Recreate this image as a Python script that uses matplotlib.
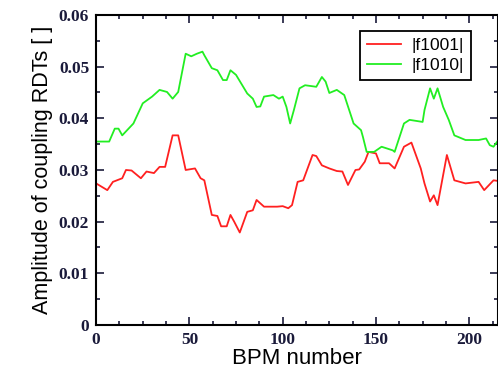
import matplotlib

matplotlib.use("Agg")
import matplotlib.pyplot as plt  # noqa: E402
from matplotlib.ticker import MultipleLocator  # noqa: E402

# |f1001| trace (BPM index, amplitude)
bpm_f1001 = [0, 6, 9, 14, 16, 19, 24, 27, 31, 34, 37, 41, 44, 48, 53, 56, 58,
             62, 65, 67, 70, 72, 74, 77, 81, 84, 86, 90, 97, 100, 103, 105,
             108, 111, 116, 118, 121, 125, 129, 132, 135, 139, 141, 144, 146,
             150, 152, 157, 160, 165, 169, 174, 176, 179, 181, 183, 188, 192,
             198, 205, 208, 213, 215]
amp_f1001 = [0.0274, 0.0261, 0.0277, 0.0284, 0.0300, 0.0299, 0.0284, 0.0297,
             0.0294, 0.0306, 0.0306, 0.0367, 0.0367, 0.0300, 0.0303, 0.0284,
             0.0280, 0.0213, 0.0211, 0.0191, 0.0191, 0.0213, 0.0200, 0.0179,
             0.0219, 0.0222, 0.0242, 0.0229, 0.0229, 0.0230, 0.0226, 0.0232,
             0.0277, 0.0280, 0.0329, 0.0327, 0.0309, 0.0303, 0.0298, 0.0297,
             0.0271, 0.0300, 0.0301, 0.0316, 0.0335, 0.0332, 0.0313, 0.0313,
             0.0303, 0.0345, 0.0353, 0.0303, 0.0274, 0.0239, 0.0251, 0.0232,
             0.0329, 0.0280, 0.0274, 0.0277, 0.0261, 0.0280, 0.0279]

# |f1010| trace
bpm_f1010 = [0, 7, 10, 12, 14, 20, 25, 30, 34, 38, 41, 44, 48, 51, 54, 57, 58,
             62, 65, 68, 70, 72, 75, 81, 84, 86, 88, 90, 95, 98, 100, 102, 104,
             106, 109, 112, 118, 121, 123, 125, 129, 133, 138, 142, 143, 145,
             149, 153, 159, 160, 165, 168, 175, 176, 179, 181, 183, 186, 189,
             192, 198, 205, 209, 211, 213, 215]
amp_f1010 = [0.0355, 0.0355, 0.0380, 0.0380, 0.0367, 0.0390, 0.0429, 0.0442,
             0.0455, 0.0451, 0.0438, 0.0451, 0.0525, 0.0520, 0.0525, 0.0529,
             0.0522, 0.0497, 0.0493, 0.0474, 0.0474, 0.0493, 0.0484, 0.0448,
             0.0438, 0.0422, 0.0423, 0.0442, 0.0445, 0.0438, 0.0442, 0.0422,
             0.0390, 0.0416, 0.0458, 0.0464, 0.0461, 0.0480, 0.0471, 0.0449,
             0.0455, 0.0445, 0.0390, 0.0377, 0.0364, 0.0335, 0.0335, 0.0345,
             0.0338, 0.0335, 0.0390, 0.0397, 0.0393, 0.0416, 0.0458, 0.0438,
             0.0458, 0.0422, 0.0397, 0.0367, 0.0358, 0.0358, 0.0361, 0.0348,
             0.0345, 0.0355]

RED, GREEN = "#ff2020", "#22ee22"
SERIF = ["Liberation Serif", "DejaVu Serif"]
SANS = ["Liberation Sans", "DejaVu Sans"]

fig = plt.figure(figsize=(4.98, 3.74), dpi=100)
ax = fig.add_axes([0.193, 0.131, 0.807, 0.829])

ax.plot(bpm_f1001, amp_f1001, color=RED, linewidth=1.3, label="|f1001|")
ax.plot(bpm_f1010, amp_f1010, color=GREEN, linewidth=1.3, label="|f1010|")

ax.set_xlim(0, 215.4)
ax.set_ylim(0, 0.06)
ax.xaxis.set_major_locator(MultipleLocator(50))
ax.xaxis.set_minor_locator(MultipleLocator(12.5))
ax.yaxis.set_major_locator(MultipleLocator(0.01))
ax.yaxis.set_minor_locator(MultipleLocator(0.005))
ax.yaxis.set_major_formatter(lambda v, _: "0" if v == 0 else f"{v:.2f}")
ax.tick_params(which="both", direction="in", top=True, right=True, width=1.2,
               labelsize=12.5, colors="#1a1a3a", pad=5)
ax.tick_params(which="major", length=6)
ax.tick_params(which="minor", length=3)
for lbl in ax.get_xticklabels() + ax.get_yticklabels():
    lbl.set_family(SERIF)
    lbl.set_fontweight("bold")
for spine in ax.spines.values():
    spine.set_linewidth(1.5)

ax.set_xlabel("BPM number", family=SANS, fontsize=16, labelpad=0)
ax.set_ylabel("Amplitude of coupling RDTs [ ]", family=SANS, fontsize=15.5, labelpad=4)

leg = ax.legend(loc="upper right", bbox_to_anchor=(0.955, 0.977), fancybox=False,
                edgecolor="black", framealpha=1, borderpad=0.4, handlelength=2.0,
                handletextpad=0.6, labelspacing=0.3, prop={"family": SANS, "size": 12.5})
leg.get_frame().set_linewidth(1.3)

fig.savefig("out.png", dpi=100)
